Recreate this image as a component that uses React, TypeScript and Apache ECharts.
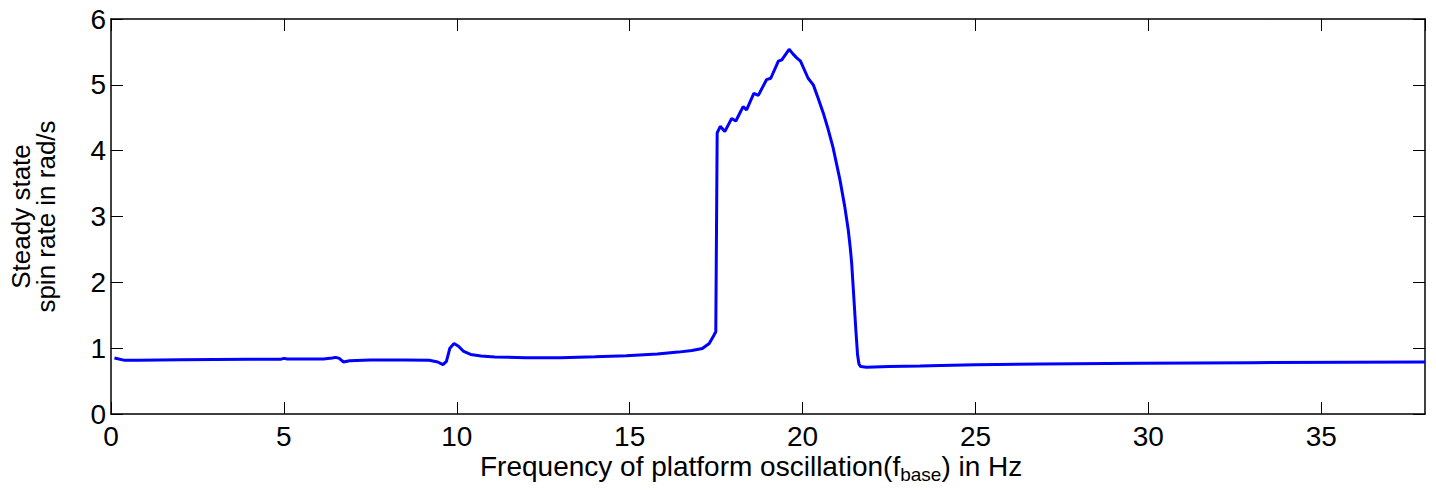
import React, { useEffect, useRef } from "react";
import * as echarts from "echarts";

const freqHz: number[] = [
  0.1, 0.4, 0.8, 2, 3, 4, 4.9, 5.0, 5.1, 5.5, 6.14, 6.4, 6.5, 6.6, 6.72, 6.9, 7.5, 8.5, 9.2, 9.45,
  9.6, 9.7, 9.8, 9.92, 10.05, 10.2, 10.4, 10.7, 11.1, 12, 13, 14, 14.9, 15.8, 16.4, 16.8, 17.1, 17.3,
  17.42, 17.49, 17.53, 17.62, 17.75, 17.95, 18.07, 18.28, 18.38, 18.59, 18.72, 18.96, 19.08, 19.3,
  19.4, 19.61, 19.72, 19.83, 19.94, 20.16, 20.31, 20.42, 20.6, 20.72, 20.88, 21.08, 21.22, 21.32,
  21.38, 21.42, 21.48, 21.54, 21.59, 21.63, 21.68, 21.85, 22.5, 23.4, 24, 25, 26.9, 29.75, 33, 38,
];

const spinRate: number[] = [
  0.85, 0.815, 0.815, 0.825, 0.828, 0.83, 0.83, 0.845, 0.835, 0.835, 0.835, 0.85, 0.86, 0.845, 0.79,
  0.81, 0.82, 0.82, 0.815, 0.79, 0.75, 0.8, 1.0, 1.07, 1.03, 0.95, 0.905, 0.88, 0.866, 0.855, 0.855,
  0.87, 0.886, 0.91, 0.94, 0.965, 0.995, 1.07, 1.18, 1.25, 4.27, 4.37, 4.29, 4.49, 4.45, 4.67, 4.62,
  4.87, 4.84, 5.08, 5.1, 5.36, 5.38, 5.54, 5.47, 5.41, 5.36, 5.1, 5.0, 4.84, 4.57, 4.36, 4.05, 3.56,
  3.15, 2.8, 2.52, 2.29, 1.79, 1.28, 0.9, 0.76, 0.72, 0.71, 0.72, 0.73, 0.738, 0.748, 0.76, 0.77,
  0.78, 0.79,
];

const xTitleMain = "Frequency of platform oscillation(f";
const xTitleSub = "base";
const xTitleEnd = ") in Hz";
const yTitleLines = ["Steady state", "spin rate in rad/s"];

const FONT = "'Liberation Sans', Arial, Helvetica, sans-serif";
const FS = 28;

export default function App() {
  const ref = useRef<HTMLDivElement>(null);

  useEffect(() => {
    if (!ref.current) return;
    const chart = echarts.init(ref.current, undefined, { renderer: "svg" });
    const data = freqHz.map((x, i) => [x, spinRate[i]]);
    const tickStyle = { show: true, inside: true, length: 12, lineStyle: { color: "#000", width: 1 } };
    const lineStyle = { show: true, lineStyle: { color: "#000", width: 1.5 } };
    chart.setOption({
      animation: false,
      backgroundColor: "#fff",
      grid: {
        left: 111,
        right: 11,
        top: 19,
        bottom: 76,
        show: false,
        containLabel: false,
        outerBoundsMode: "none",
      },
      xAxis: [
        {
          type: "value",
          min: 0,
          max: 38,
          interval: 5,
          axisLine: { ...lineStyle, onZero: false },
          axisTick: tickStyle,
          splitLine: { show: false },
          axisLabel: { color: "#000", fontSize: FS, fontFamily: FONT, margin: 8, showMaxLabel: false },
        },
        {
          type: "value",
          position: "top",
          min: 0,
          max: 38,
          interval: 5,
          axisLine: { ...lineStyle, onZero: false },
          axisTick: tickStyle,
          splitLine: { show: false },
          axisLabel: { show: false },
        },
      ],
      yAxis: [
        {
          type: "value",
          min: 0,
          max: 6,
          interval: 1,
          axisLine: { ...lineStyle, onZero: false },
          axisTick: tickStyle,
          splitLine: { show: false },
          axisLabel: { color: "#000", fontSize: FS, fontFamily: FONT, margin: 5 },
          name: yTitleLines.join("\n"),
          nameLocation: "middle",
          nameRotate: 90,
          nameGap: 53,
          nameTextStyle: { color: "#000", fontSize: 26, fontFamily: FONT, lineHeight: 25 },
        },
        {
          type: "value",
          position: "right",
          min: 0,
          max: 6,
          interval: 1,
          axisLine: { ...lineStyle, onZero: false },
          axisTick: tickStyle,
          splitLine: { show: false },
          axisLabel: { show: false },
        },
      ],
      graphic: [
        {
          type: "text",
          left: 480,
          top: 449,
          style: {
            text: `{m|${xTitleMain}}{s|${xTitleSub}}{m|${xTitleEnd}}`,
            rich: {
              m: { fontSize: FS, fontFamily: FONT, fill: "#000", lineHeight: 32 },
              s: { fontSize: 19, fontFamily: FONT, fill: "#000", padding: [16, 0, 0, 0], lineHeight: 32 },
            },
          },
        },
      ],
      series: [
        {
          type: "line",
          data,
          showSymbol: false,
          smooth: false,
          lineStyle: { color: "#0000ff", width: 3 },
          itemStyle: { color: "#0000ff" },
        },
      ],
    });
    return () => chart.dispose();
  }, []);

  return <div ref={ref} style={{ width: 1436, height: 490, position: "absolute", left: 0, top: 0 }} />;
}
